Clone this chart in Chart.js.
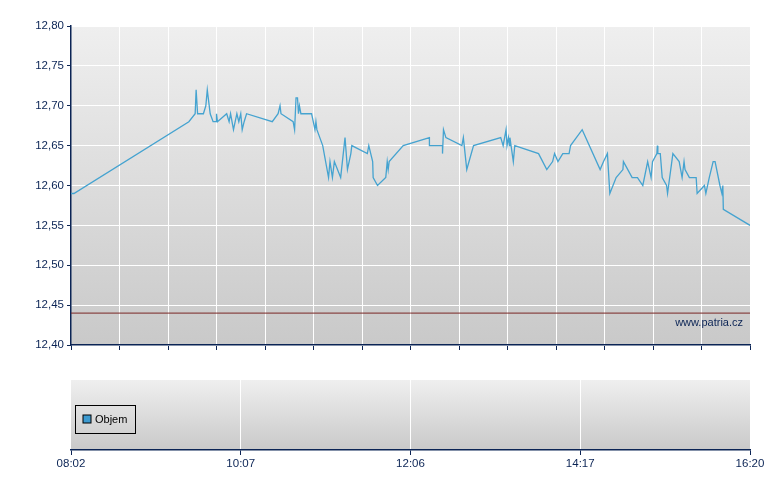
<!DOCTYPE html>
<html>
<head>
<meta charset="utf-8">
<script src="https://cdn.jsdelivr.net/npm/chart.js@4.4.1/dist/chart.umd.min.js"></script>
<style>
  html, body { margin: 0; padding: 0; background: #ffffff; }
  #wrap { position: relative; width: 780px; height: 490px; }
  #main { position: absolute; left: 0; top: 0; }
  #vol { position: absolute; left: 0; top: 360px; }
</style>
</head>
<body>
<div id="wrap">
  <canvas id="main" width="780" height="360"></canvas>
  <canvas id="vol" width="780" height="130"></canvas>
</div>
<script>
// ---- data ----
// position along the session axis (0 = 08:02 open, 1400 = 16:20 close; axis is trade-spaced, not clock-linear)
const sessionPos = [
  0, 6, 243, 256, 258, 261, 273, 278, 281, 287,
  293, 299, 300, 302, 321, 326, 329, 335, 342, 346,
  350, 353, 357, 362, 415, 427, 431, 433, 458, 461,
  464, 467, 469, 471, 474, 496, 503, 505, 507, 519,
  531, 534, 539, 543, 556, 565, 570, 577, 579, 611,
  614, 622, 623, 632, 649, 652, 654, 656, 685, 739,
  739, 766, 766, 768, 773, 806, 809, 816, 830, 886,
  891, 897, 899, 902, 904, 905, 912, 915, 964, 981,
  993, 997, 1004, 1014, 1027, 1030, 1054, 1091, 1098, 1106,
  1111, 1124, 1138, 1139, 1157, 1168, 1179, 1189, 1196, 1199,
  1208, 1209, 1210, 1215, 1219, 1228, 1230, 1241, 1254, 1260,
  1264, 1266, 1275, 1289, 1291, 1306, 1309, 1316, 1324, 1328,
  1338, 1342, 1344, 1345, 1400
];
const priceValues = [
  12.59, 12.59, 12.68, 12.69, 12.72, 12.69, 12.69, 12.70, 12.72, 12.69,
  12.68, 12.68, 12.69, 12.68, 12.69, 12.68, 12.69, 12.67, 12.69, 12.68,
  12.69, 12.67, 12.68, 12.69, 12.68, 12.69, 12.70, 12.69, 12.68, 12.67,
  12.71, 12.71, 12.69, 12.70, 12.69, 12.69, 12.67, 12.68, 12.67, 12.65,
  12.61, 12.63, 12.61, 12.63, 12.61, 12.66, 12.62, 12.64, 12.65, 12.64,
  12.65, 12.63, 12.61, 12.60, 12.61, 12.63, 12.62, 12.63, 12.65, 12.66,
  12.65, 12.65, 12.64, 12.67, 12.66, 12.65, 12.66, 12.62, 12.65, 12.66,
  12.65, 12.67, 12.65, 12.66, 12.65, 12.66, 12.63, 12.65, 12.64, 12.62,
  12.63, 12.64, 12.63, 12.64, 12.64, 12.65, 12.67, 12.62, 12.63, 12.64,
  12.59, 12.61, 12.62, 12.63, 12.61, 12.61, 12.60, 12.63, 12.61, 12.63,
  12.64, 12.65, 12.64, 12.64, 12.61, 12.60, 12.59, 12.64, 12.63, 12.61,
  12.63, 12.62, 12.61, 12.61, 12.59, 12.60, 12.59, 12.61, 12.63, 12.63,
  12.60, 12.59, 12.60, 12.57, 12.55
];
const previousClose = 12.44;
const volumeValues = [];              // no volume bars visible in the reference
const timeTickPos = [0, 350, 700, 1050, 1400];
const timeTickLabels = ['08:02', '10:07', '12:06', '14:17', '16:20'];
const priceMin = 12.40, priceMax = 12.80, priceStep = 0.05;
const sessionMin = 0, sessionMax = 1400, gridStep = 100;
const sourceText = 'www.patria.cz';
const volumeLabel = 'Objem';

// ---- styling ----
const NAVY = '#0b2455';
const FONT = "'Liberation Sans', Arial, sans-serif";
Chart.defaults.font.family = FONT;
Chart.defaults.font.size = 11;
Chart.defaults.color = NAVY;

function gradientBg(top, bottom) {
  return {
    id: 'gradBg',
    beforeDraw(chart) {
      const a = chart.chartArea, ctx = chart.ctx;
      const g = ctx.createLinearGradient(0, a.top, 0, a.bottom);
      g.addColorStop(0, top);
      g.addColorStop(1, bottom);
      ctx.save();
      ctx.fillStyle = g;
      ctx.fillRect(a.left, a.top, a.right - a.left, a.bottom - a.top);
      ctx.restore();
    }
  };
}

const sourcePlugin = {
  id: 'sourceText',
  afterDraw(chart) {
    const a = chart.chartArea, ctx = chart.ctx;
    ctx.save();
    ctx.font = '11px ' + FONT;
    ctx.fillStyle = NAVY;
    ctx.textAlign = 'right';
    ctx.textBaseline = 'middle';
    ctx.fillText(sourceText, a.right - 7, a.bottom - 22);
    ctx.restore();
  }
};

const pricePoints = sessionPos.map((x, i) => ({ x: x, y: priceValues[i] }));
const refPoints = [{ x: sessionMin, y: previousClose }, { x: sessionMax, y: previousClose }];

new Chart(document.getElementById('main'), {
  type: 'line',
  data: {
    datasets: [
      { label: 'Cena', data: pricePoints, borderColor: '#45a3d0', borderWidth: 1.3,
        pointRadius: 0, tension: 0, fill: false },
      { label: 'Předchozí závěr', data: refPoints, borderColor: '#7a2624', borderWidth: 1,
        pointRadius: 0, tension: 0, fill: false }
    ]
  },
  options: {
    responsive: false, animation: false, events: [],
    layout: { padding: { top: 26, right: 30, left: 0, bottom: 0 } },
    plugins: { legend: { display: false }, tooltip: { enabled: false } },
    scales: {
      x: {
        type: 'linear', min: sessionMin, max: sessionMax,
        ticks: { display: false, stepSize: gridStep },
        grid: {
          color: (c) => (c.index === 0 ? 'rgba(0,0,0,0)' : '#ffffff'),
          lineWidth: 1, tickColor: NAVY, tickLength: 5, tickWidth: 1
        },
        border: { color: NAVY, width: 1.5 },
        afterFit: (s) => { s.height = 15; }
      },
      y: {
        min: priceMin, max: priceMax,
        ticks: { stepSize: priceStep, padding: 3, color: NAVY,
                 font: { size: 11.5, family: FONT },
                 callback: (v) => Number(v).toFixed(2).replace('.', ',') },
        grid: { color: '#ffffff', lineWidth: 1, tickColor: NAVY, tickLength: 4 },
        border: { color: NAVY, width: 1.5 },
        afterFit: (s) => { s.width = 71; }
      }
    }
  },
  plugins: [gradientBg('#efefef', '#c9c9c9'), sourcePlugin]
});

const volLegendPlugin = {
  id: 'volLegend',
  afterDraw(chart) {
    const a = chart.chartArea, ctx = chart.ctx;
    const ds = chart.data.datasets[0];
    const bx = a.left + 4.5, by = a.top + 25.5;
    ctx.save();
    ctx.font = '11px ' + FONT;
    const tw = ctx.measureText(ds.label).width;
    const w = Math.round(8 + 4 + tw + 16), h = 28;
    ctx.strokeStyle = '#000000';
    ctx.lineWidth = 1;
    ctx.strokeRect(bx, by, w, h);
    ctx.fillStyle = ds.backgroundColor;
    ctx.fillRect(bx + 7.5, by + 9.5, 8, 8);
    ctx.strokeRect(bx + 7.5, by + 9.5, 8, 8);
    ctx.fillStyle = '#000000';
    ctx.textAlign = 'left';
    ctx.textBaseline = 'middle';
    ctx.fillText(ds.label, bx + 19.5, by + 14.5);
    ctx.restore();
  }
};

new Chart(document.getElementById('vol'), {
  type: 'bar',
  data: {
    datasets: [
      { label: volumeLabel, data: volumeValues, backgroundColor: '#3d9bd1' }
    ]
  },
  options: {
    responsive: false, animation: false, events: [],
    layout: { padding: { top: 20, right: 30, left: 71, bottom: 0 } },
    plugins: { legend: { display: false }, tooltip: { enabled: false } },
    scales: {
      x: {
        type: 'linear', min: sessionMin, max: sessionMax, offset: false,
        afterBuildTicks: (s) => { s.ticks = timeTickPos.map(v => ({ value: v })); },
        ticks: { padding: 2, color: NAVY, font: { size: 11.5, family: FONT }, maxRotation: 0,
                 autoSkip: false, align: 'center',
                 callback: (v) => timeTickLabels[timeTickPos.indexOf(v)] },
        grid: {
          offset: false,
          color: (c) => (c.index === 0 || c.index === timeTickPos.length - 1 ? 'rgba(0,0,0,0)' : '#ffffff'),
          lineWidth: 1, tickColor: NAVY, tickLength: 5
        },
        border: { color: NAVY, width: 1.5 },
        afterFit: (s) => { s.height = 40; }
      },
      y: { display: false, min: 0, max: 1 }
    }
  },
  plugins: [gradientBg('#efefef', '#c9c9c9'), volLegendPlugin]
});
</script>
</body>
</html>
